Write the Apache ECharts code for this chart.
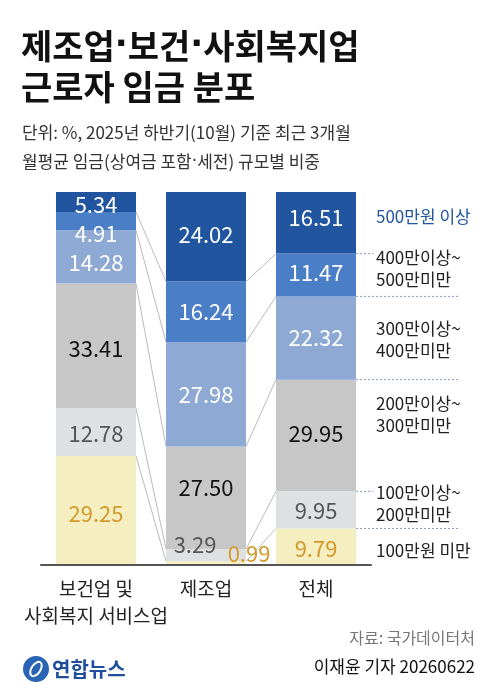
<!DOCTYPE html>
<html><head><meta charset="utf-8">
<script src="https://cdn.jsdelivr.net/npm/echarts@6/dist/echarts.min.js"></script>
<style>html,body{margin:0;padding:0;background:#fff}#c{width:499px;height:698px}</style>
</head><body><div id="c"></div>
<script>
const categories = ['보건업 및\n사회복지 서비스업', '제조업', '전체'];
const bandNames = ['500만원 이상', '400만이상~\n500만미만', '300만이상~\n400만미만', '200만이상~\n300만미만', '100만이상~\n200만미만', '100만원 미만'];
const v500plus   = [5.34, 24.02, 16.51];
const v400to500  = [4.91, 16.24, 11.47];
const v300to400  = [14.28, 27.98, 22.32];
const v200to300  = [33.41, 27.50, 29.95];
const v100to200  = [12.78, 3.29, 9.95];
const vUnder100  = [29.25, 0.99, 9.79];

const FONT = "'Noto Sans CJK KR', 'Noto Sans', sans-serif";
const DOTFONT = "'DejaVu Sans', sans-serif";
const topDown = [v500plus, v400to500, v300to400, v200to300, v100to200, vUnder100];
const colors = ['#2155a0', '#4a7ec6', '#8eaad4', '#c7c7c8', '#dfe0e2', '#f5eec1'];
const labelColors = ['#fff', '#fff', '#fff', '#111', '#555', '#d39a2a'];
const labelOffsets = [
  [[0,3],[0,-2],[0,-5]],
  [[0,12],[0,0],[0,-2]],
  [[0,6],[0,0],[0,0]],
  [[0,3],[0,-10],[0,-2]],
  [[0,2],[-11,-11],[0,1]],
  [[0,3],[43,-10],[0,2]]
];
const HALF = 40;

const bottomUp = topDown.slice().reverse();
const cum = categories.map((_, c) => {
  let s = 0; const arr = [];
  bottomUp.forEach(v => { s += v[c]; arr.push(s); });
  return arr;
});

const barSeries = bottomUp.map((vals, i) => {
  const td = topDown.length - 1 - i;
  return {
    type: 'bar', stack: 'a', name: bandNames[td], barWidth: 80,
    itemStyle: { color: colors[td] },
    data: vals.map((v, c) => ({
      value: v,
      label: {
        show: true, position: 'inside', offset: labelOffsets[td][c],
        formatter: () => v.toFixed(2),
        color: labelColors[td], fontSize: 22, fontFamily: FONT
      }
    })),
    z: 2
  };
});

const connData = [];
for (let c = 0; c < 2; c++) for (let k = 0; k < 5; k++) connData.push([c, cum[c][k], c + 1, cum[c + 1][k]]);

const dottedLen = { 0: 102, 1: 17, 2: 102, 3: 102, 4: 17 };
const dotData = [];
for (let k = 0; k < 5; k++) dotData.push([2, cum[2][k], k]);

const rightDy = [-6, -6, 2, -21, -6, 4];
const rightData = topDown.map((v, td) => {
  const bi = topDown.length - 1 - td;
  const lo = bi === 0 ? 0 : cum[2][bi - 1];
  const hi = cum[2][bi];
  return [2, (lo + hi) / 2, td];
});

const option = {
  backgroundColor: '#fff',
  animation: false,
  title: [
    { text: '제조업{d|·}보건{d|·}사회복지업\n근로자 임금 분포', left: 21, top: 26, padding: 0,
      textStyle: { fontFamily: FONT, fontSize: 34, fontWeight: 'bold', lineHeight: 41, color: '#111',
        rich: { d: { fontFamily: DOTFONT, fontSize: 34, fontWeight: 'bold', color: '#111', lineHeight: 41 } } } },
    { text: '단위: %, 2025년 하반기(10월) 기준 최근 3개월\n월평균 임금(상여금 포함{d|·}세전) 규모별 비중', left: 22, top: 118, padding: 0,
      textStyle: { fontFamily: FONT, fontSize: 17, fontWeight: 'normal', lineHeight: 29, color: '#333',
        rich: { d: { fontFamily: DOTFONT, fontSize: 17, color: '#333', lineHeight: 29 } } } },
    { text: '자료: 국가데이터처', right: 24, top: 630, padding: 0,
      textStyle: { fontFamily: FONT, fontSize: 16, fontWeight: 'normal', color: '#777' } },
    { text: '이재윤 기자 20260622', right: 24, top: 658, padding: 0,
      textStyle: { fontFamily: FONT, fontSize: 17, fontWeight: 'normal', color: '#111' } }
  ],
  grid: { left: 41, right: 128, top: 192, bottom: 133 },
  xAxis: {
    type: 'category', data: categories,
    axisTick: { show: false },
    axisLine: { lineStyle: { color: '#555', width: 2 } },
    axisLabel: { color: '#222', fontSize: 19, lineHeight: 27, margin: 10, fontFamily: FONT, interval: 0 },
    z: 10
  },
  yAxis: { type: 'value', min: 0, max: 100, show: false },
  graphic: [
    { type: 'circle', shape: { cx: 36, cy: 669, r: 13 }, style: { fill: '#2a64b5' } },
    { type: 'ellipse', shape: { cx: 0, cy: 0, rx: 8, ry: 4.5 }, x: 36, y: 669, rotation: 1.0,
      style: { fill: 'none', stroke: '#fff', lineWidth: 2 } },
    { type: 'text', x: 52, y: 669, style: { text: '연합뉴스', fill: '#1f4e9c', fontSize: 20, fontWeight: 'bold',
      fontFamily: FONT, verticalAlign: 'middle', align: 'left' } }
  ],
  series: barSeries.concat([
    {
      type: 'custom', data: connData, encode: { x: [0, 2], y: [1, 3] }, silent: true, z: 1,
      renderItem: (params, api) => {
        const p1 = api.coord([api.value(0), api.value(1)]);
        const p2 = api.coord([api.value(2), api.value(3)]);
        return { type: 'line', shape: { x1: p1[0] + HALF, y1: p1[1], x2: p2[0] - HALF, y2: p2[1] },
          style: { stroke: '#a8a8a8', lineWidth: 0.8 } };
      }
    },
    {
      type: 'custom', data: dotData, encode: { x: 0, y: 1 }, silent: true, z: 1,
      renderItem: (params, api) => {
        const p = api.coord([api.value(0), api.value(1)]);
        const len = dottedLen[api.value(2)];
        return { type: 'line', shape: { x1: p[0] + HALF, y1: p[1], x2: p[0] + HALF + len, y2: p[1] },
          style: { stroke: '#8a9cc0', lineWidth: 1, lineDash: [2, 2] } };
      }
    },
    {
      type: 'custom', data: rightData, encode: { x: 0, y: 1 }, silent: true, z: 3,
      renderItem: (params, api) => {
        const p = api.coord([api.value(0), api.value(1)]);
        const td = api.value(2);
        return { type: 'text', x: p[0] + 60, y: p[1] + rightDy[td],
          style: { text: bandNames[td], fill: td === 0 ? '#2155a0' : '#222', fontSize: 17, lineHeight: 22,
            fontFamily: FONT, align: 'left', verticalAlign: 'middle' } };
      }
    }
  ])
};
const chart = echarts.init(document.getElementById('c'));
chart.setOption(option);
</script></body></html>
